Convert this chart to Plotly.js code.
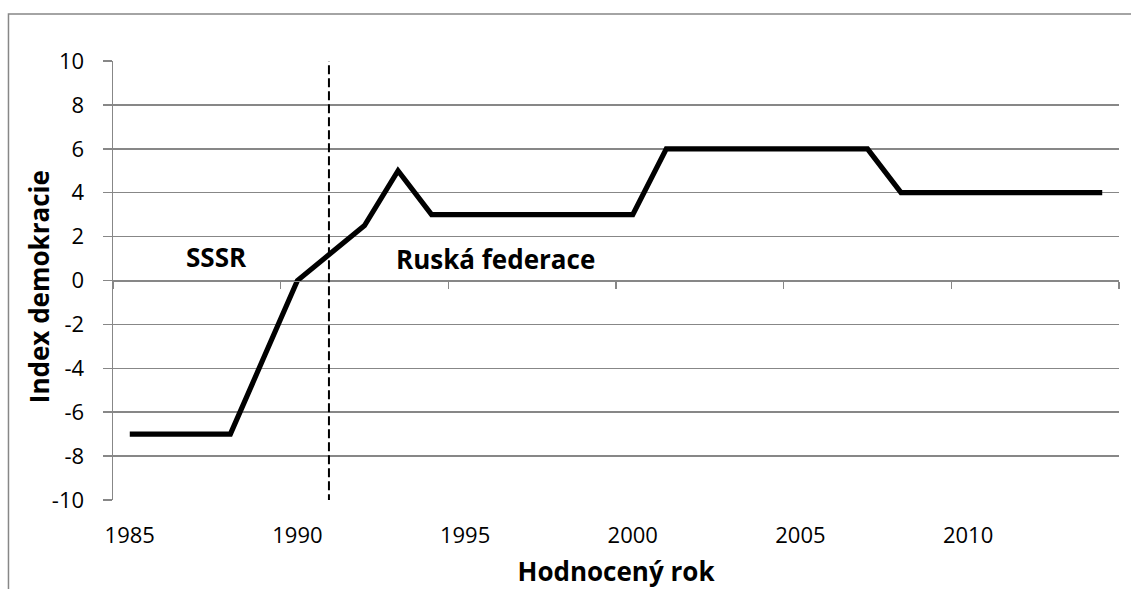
<!DOCTYPE html>
<html>
<head>
<meta charset="utf-8">
<script src="https://cdn.plot.ly/plotly-3.0.1.min.js"></script>
<style>
  html, body { margin: 0; padding: 0; background: #ffffff; }
  #chart { width: 1131px; height: 589px; }
</style>
</head>
<body>
<div id="chart"></div>
<script>
// ---- data ----
const years = [1985, 1986, 1987, 1988, 1989, 1990, 1991, 1992, 1993, 1994,
               1995, 1996, 1997, 1998, 1999, 2000, 2001, 2002, 2003, 2004,
               2005, 2006, 2007, 2008, 2009, 2010, 2011, 2012, 2013, 2014];
const democracyIndex = [-7, -7, -7, -7, -3.5, 0, 1.25, 2.5, 5, 3,
                        3, 3, 3, 3, 3, 3, 6, 6, 6, 6,
                        6, 6, 6, 4, 4, 4, 4, 4, 4, 4];
const xTickLabels = [1985, 1990, 1995, 2000, 2005, 2010];
const xTickMarks = [1984.5, 1989.5, 1994.5, 1999.5, 2004.5, 2009.5, 2014.5];
const yTicks = [-10, -8, -6, -4, -2, 0, 2, 4, 6, 8, 10];
const breakYear = 1990.94;
const regionLabels = ["SSSR", "Ruská federace"];
const regionLabelX = [1987.6, 1995.9];
const regionLabelY = [1.05, 1.0];
const xTitle = 'Hodnocený rok';
const yTitle = 'Index demokracie';

const grey = '#878787';
const fontFamily = '"Open Sans", "Liberation Sans", sans-serif';
const boldFont = { family: fontFamily, size: 26, color: '#000000', weight: 'bold' };

const traces = [
  {
    x: years,
    y: democracyIndex,
    type: 'scatter',
    mode: 'lines',
    line: { color: '#000000', width: 5.2, shape: 'linear' },
    showlegend: false,
    hoverinfo: 'skip'
  },
  {
    x: xTickMarks,
    y: xTickMarks.map(() => null),
    xaxis: 'x2',
    yaxis: 'y',
    type: 'scatter',
    mode: 'lines',
    showlegend: false,
    hoverinfo: 'skip'
  }
];

const layout = {
  width: 1131,
  height: 589,
  paper_bgcolor: '#ffffff',
  plot_bgcolor: '#ffffff',
  margin: { l: 113, r: 12, t: 61, b: 89 },
  showlegend: false,
  font: { family: fontFamily, color: '#000000', size: 22 },
  xaxis: {
    type: 'linear',
    range: [1984.5, 2014.5],
    tickmode: 'array',
    tickvals: xTickLabels,
    ticktext: xTickLabels.map(String),
    ticks: '',
    showgrid: false,
    showline: false,
    zeroline: false,
    ticklabelstandoff: 20,
    tickfont: { family: fontFamily, size: 22, color: '#000000' },
    title: { text: xTitle, font: boldFont, standoff: 14 },
    automargin: false,
    fixedrange: true
  },
  xaxis2: {
    type: 'linear',
    overlaying: 'x',
    anchor: 'free',
    position: 0.5,
    side: 'bottom',
    range: [1984.5, 2014.5],
    tickmode: 'array',
    tickvals: xTickMarks,
    showticklabels: false,
    ticks: 'outside',
    ticklen: 7,
    tickwidth: 1.5,
    tickcolor: grey,
    showline: true,
    linecolor: grey,
    linewidth: 1.5,
    showgrid: false,
    zeroline: false,
    fixedrange: true
  },
  yaxis: {
    range: [-10, 10],
    tickmode: 'array',
    tickvals: yTicks,
    ticktext: yTicks.map(String),
    ticks: 'outside',
    ticklen: 9,
    tickwidth: 1.5,
    tickcolor: grey,
    showline: true,
    linecolor: grey,
    linewidth: 1.5,
    showgrid: true,
    gridcolor: grey,
    gridwidth: 1.5,
    zeroline: false,
    ticklabelstandoff: 14,
    tickfont: { family: fontFamily, size: 22, color: '#000000' },
    automargin: false,
    fixedrange: true
  },
  shapes: [
    {
      type: 'line',
      xref: 'x', yref: 'y',
      x0: breakYear, x1: breakYear,
      y0: -10.15, y1: 10,
      line: { color: '#000000', width: 2, dash: '9px,4px' },
      layer: 'above'
    },
    {
      type: 'rect',
      xref: 'paper', yref: 'paper',
      x0: -0.1039, x1: 1.2,
      y0: -0.5, y1: 1.107,
      line: { color: grey, width: 1.5 },
      fillcolor: 'rgba(0,0,0,0)',
      layer: 'below'
    }
  ],
  annotations: regionLabels.map((t, i) => ({
    x: regionLabelX[i],
    y: regionLabelY[i],
    xref: 'x', yref: 'y',
    text: t,
    showarrow: false,
    xanchor: 'center',
    yanchor: 'middle',
    font: boldFont
  })).concat([{
    x: -0.0736,
    y: 0.487,
    xref: 'paper', yref: 'paper',
    text: yTitle,
    textangle: -90,
    showarrow: false,
    xanchor: 'center',
    yanchor: 'middle',
    font: boldFont
  }])
};

Plotly.newPlot('chart', traces, layout, { displayModeBar: false, staticPlot: true });
</script>
</body>
</html>
